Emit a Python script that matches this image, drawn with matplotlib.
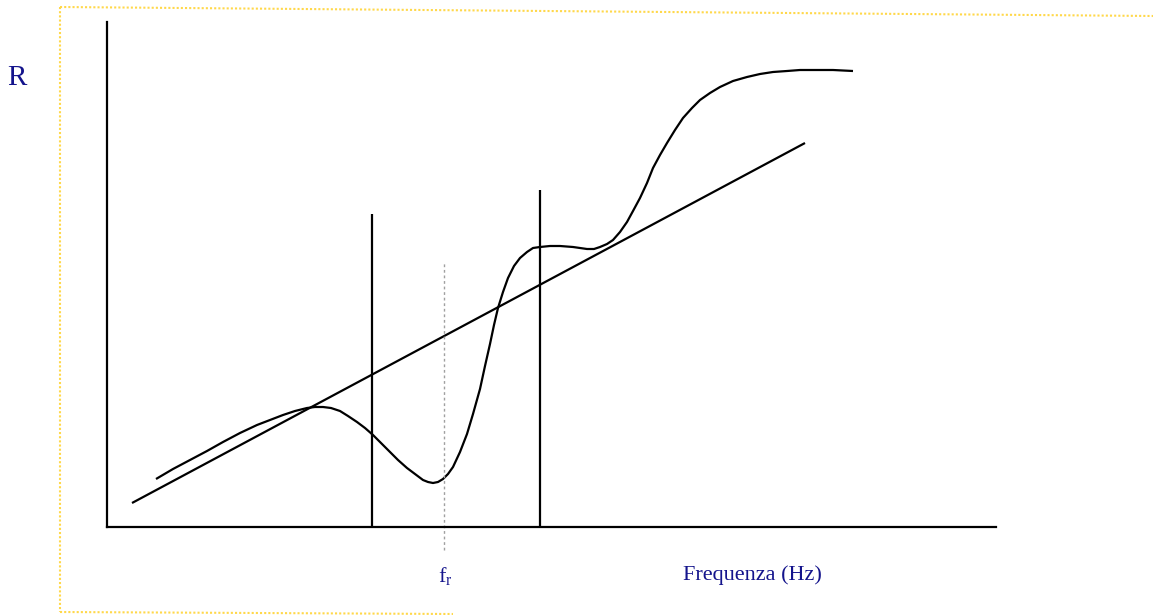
import matplotlib
matplotlib.use("Agg")
import matplotlib.pyplot as plt
from matplotlib.lines import Line2D

# resistance curve (arbitrary units)
freq = [49, 66, 83, 100, 116, 133, 150, 163, 176, 188,
        200, 208, 216, 224, 233, 241, 250, 258, 266, 274,
        283, 291, 300, 308, 316, 321, 326, 331, 336, 341,
        346, 353, 360, 366, 373, 378, 383, 387, 391, 396,
        401, 407, 413, 420, 426, 433, 443, 453, 466, 480,
        487, 493, 500, 506, 513, 520, 526, 533, 540, 546,
        553, 560, 568, 576, 585, 593, 603, 613, 626, 640,
        653, 666, 680, 693, 710, 726, 746]
resist = [48, 58, 67, 76, 85, 94, 102, 107, 112, 116,
          119, 120, 120, 119, 116, 111, 105, 99, 92, 84,
          75, 67, 59, 53, 47, 45, 44, 45, 48, 53,
          60, 75, 93, 113, 138, 161, 183, 202, 219, 235,
          249, 261, 269, 275, 279, 280, 281, 281, 280, 278,
          278, 280, 283, 287, 295, 305, 316, 329, 344, 359,
          372, 384, 397, 409, 419, 427, 434, 440, 446, 450,
          453, 455, 456, 457, 457, 457, 456]

# straight reference line
line_f = [25, 698]
line_r = [24, 384]

# band limits and resonance frequency
band_f = [265, 433]
band_top = [313, 337]
f_res = 337
f_res_range = [-23, 264]

x_max = 889
y_max = 505

navy = "#14148c"

plt.rcParams["mathtext.fontset"] = "custom"
plt.rcParams["mathtext.rm"] = "Liberation Serif"

fig = plt.figure(figsize=(11.53, 6.15), dpi=100)
ax = fig.add_axes([107/1153, 88/615, 889/1153, 505/615])
ax.set_xlim(0, x_max)
ax.set_ylim(0, y_max)

ax.plot(freq, resist, color="black", lw=1.6, solid_joinstyle="round", solid_capstyle="butt")
ax.plot(line_f, line_r, color="black", lw=1.6, solid_capstyle="butt")
for f, top in zip(band_f, band_top):
    ax.plot([f, f], [0, top], color="black", lw=1.6, solid_capstyle="butt")
ax.plot([f_res, f_res], f_res_range, color="#a0a0a0", lw=1, ls=(0, (2, 2)), clip_on=False)

for side in ["top", "right"]:
    ax.spines[side].set_visible(False)
for side in ["left", "bottom"]:
    ax.spines[side].set_linewidth(1.6)
ax.set_xticks([])
ax.set_yticks([])
ax.patch.set_alpha(0)

serif = ["Liberation Serif", "DejaVu Serif"]
fig.text(17/1153, 1 - 78/615, "R", color=navy, fontsize=21, family=serif,
         ha="center", va="center")
fig.text(445/1153, 1 - 576/615, r"$\mathregular{f_r}$", color=navy, fontsize=16,
         family=serif, ha="center", va="center")
fig.text(752/1153, 1 - 575/615, "Frequenza (Hz)", color=navy, fontsize=16,
         family=serif, ha="center", va="center")

# dotted yellow frame of the slide
W, H = 1153, 615
frame = [((60, 7), (1153, 16)), ((60, 7), (60, 612)), ((60, 612), (453, 614))]
for (x0, y0), (x1, y1) in frame:
    fig.add_artist(Line2D([x0/W, x1/W], [1 - y0/H, 1 - y1/H], transform=fig.transFigure,
                          color="#ffd84a", lw=1.5, ls=(0, (1, 1))))

fig.savefig("out.png", dpi=100)
